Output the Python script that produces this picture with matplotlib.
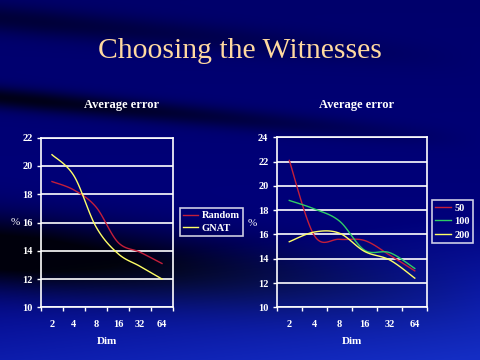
import numpy as np
import matplotlib.pyplot as plt

# values
dims = ["2", "4", "8", "16", "32", "64"]
random_err = [18.9, 18.3, 17.1, 14.6, 13.9, 13.1]
gnat_err = [20.8, 19.3, 15.7, 13.8, 12.9, 12.0]
w50 = [22.1, 15.9, 15.6, 15.5, 14.3, 13.0]
w100 = [18.8, 18.1, 17.1, 14.7, 14.5, 13.2]
w200 = [15.4, 16.2, 16.1, 14.6, 13.9, 12.4]

RED = "#c41e3a"
YEL = "#ffff66"
GRN = "#2ecc66"
SERIF = "Liberation Serif"


def smooth(vals, n=25):
    # excel-like smoothed line through the points (bezier, 1/6 tangents)
    x = np.arange(len(vals), dtype=float)
    y = np.asarray(vals, dtype=float)
    P = np.column_stack([x, y])
    P = np.vstack([P[0], P, P[-1]])
    t = np.linspace(0, 1, n)[:, None]
    out = []
    for i in range(1, len(P) - 2):
        p0, p1, p2, p3 = P[i - 1], P[i], P[i + 1], P[i + 2]
        c1 = p1 + (p2 - p0) / 6.0
        c2 = p2 - (p3 - p1) / 6.0
        seg = ((1 - t) ** 3) * p1 + 3 * ((1 - t) ** 2) * t * c1 + 3 * (1 - t) * t ** 2 * c2 + t ** 3 * p2
        out.append(seg if i == 1 else seg[1:])
    out = np.vstack(out)
    return out[:, 0], out[:, 1]


def background(fig):
    h, w = 360, 480
    yy, xx = np.mgrid[0:h, 0:w] / np.array([h, w])[:, None, None]
    r = np.zeros((h, w))
    g = np.zeros((h, w))
    b = 0.42 + 0.1 * yy
    # darker swooshes coming in from the left
    for yc, amp, wid in [(0.27, 0.35, 0.03), (0.70, 0.55, 0.10), (0.05, 0.2, 0.04)]:
        curve = yc + 0.12 * xx
        band = np.exp(-((yy - curve) / wid) ** 2) * np.clip(1.1 - xx * 1.1, 0, 1)
        b = b - amp * band
    # brighter blue at the bottom right
    glow = np.clip((yy - 0.75) * 2.5 + xx * 0.4, 0, 1)
    r += 0.08 * glow
    g += 0.18 * glow
    b += 0.25 * glow
    img = np.dstack([r, g, np.clip(b, 0.05, 1)])
    bg = fig.add_axes([0, 0, 1, 1], zorder=-10)
    bg.imshow(img, aspect="auto", extent=[0, 1, 0, 1])
    bg.axis("off")


def style_axes(ax, ymax, ylab_x, ylab_y):
    ax.set_facecolor("none")
    ax.set_xlim(-0.5, 5.5)
    ax.set_ylim(10, ymax)
    ax.set_yticks(range(10, ymax + 1, 2))
    ax.set_xticks(range(len(dims)))
    ax.set_xticklabels(dims)
    ax.set_xticks(np.arange(-0.5, 6, 1), minor=True)
    ax.tick_params(axis="x", which="major", length=0, pad=9)
    ax.tick_params(axis="x", which="minor", length=3, color="white", width=1)
    ax.tick_params(axis="y", length=3, color="white", width=1, pad=3)
    for lab in ax.get_xticklabels() + ax.get_yticklabels():
        lab.set_fontfamily(SERIF)
        lab.set_fontweight("bold")
        lab.set_fontsize(7.5)
        lab.set_color("white")
    ax.yaxis.grid(True, color="white", lw=1.2)
    ax.set_axisbelow(True)
    for s in ax.spines.values():
        s.set_color("white")
        s.set_linewidth(1.2)
    ax.set_xlabel("Dim", fontfamily=SERIF, fontweight="bold", fontsize=8,
                  color="white", labelpad=6)
    ax.set_ylabel("%", fontfamily=SERIF, fontsize=8, color="white",
                  rotation=0, ha="right", va="center")
    ax.yaxis.set_label_coords(ylab_x, ylab_y)


def add_legend(ax, anchor, spacing):
    leg = ax.legend(loc="center left", bbox_to_anchor=anchor,
                    frameon=True, fancybox=False, handlelength=1.5,
                    handletextpad=0.35, borderpad=0.3, labelspacing=spacing,
                    borderaxespad=0,
                    prop={"family": SERIF, "weight": "bold", "size": 7.5})
    leg.get_frame().set_facecolor("none")
    leg.get_frame().set_edgecolor("white")
    leg.get_frame().set_linewidth(1.2)
    for t in leg.get_texts():
        t.set_color("white")
    return leg


fig = plt.figure(figsize=(4.8, 3.6), dpi=100)
background(fig)

fig.text(0.5, 0.858, "Choosing the Witnesses", ha="center", va="center",
         fontfamily=SERIF, fontsize=21.3, color="#ffd9a0")

# left chart
ax1 = fig.add_axes([0.0854, 0.1464, 0.275, 0.471])
style_axes(ax1, 22, -0.16, 0.5)
for vals, col, lab in [(random_err, RED, "Random"), (gnat_err, YEL, "GNAT")]:
    sx, sy = smooth(vals)
    ax1.plot(sx, sy, color=col, lw=1, label=lab)
fig.text(0.253, 0.708, "Average error", ha="center", va="center",
         fontfamily=SERIF, fontweight="bold", fontsize=9, color="white")
add_legend(ax1, (1.05, 0.503), 0.3)

# right chart
ax2 = fig.add_axes([0.5765, 0.1464, 0.3138, 0.4722])
style_axes(ax2, 24, -0.135, 0.493)
for vals, col, lab in [(w50, RED, "50"), (w100, GRN, "100"), (w200, YEL, "200")]:
    sx, sy = smooth(vals)
    ax2.plot(sx, sy, color=col, lw=1, label=lab)
fig.text(0.743, 0.708, "Average error", ha="center", va="center",
         fontfamily=SERIF, fontweight="bold", fontsize=9, color="white")
add_legend(ax2, (1.03, 0.505), 0.4)

fig.savefig("out.png", dpi=100)
